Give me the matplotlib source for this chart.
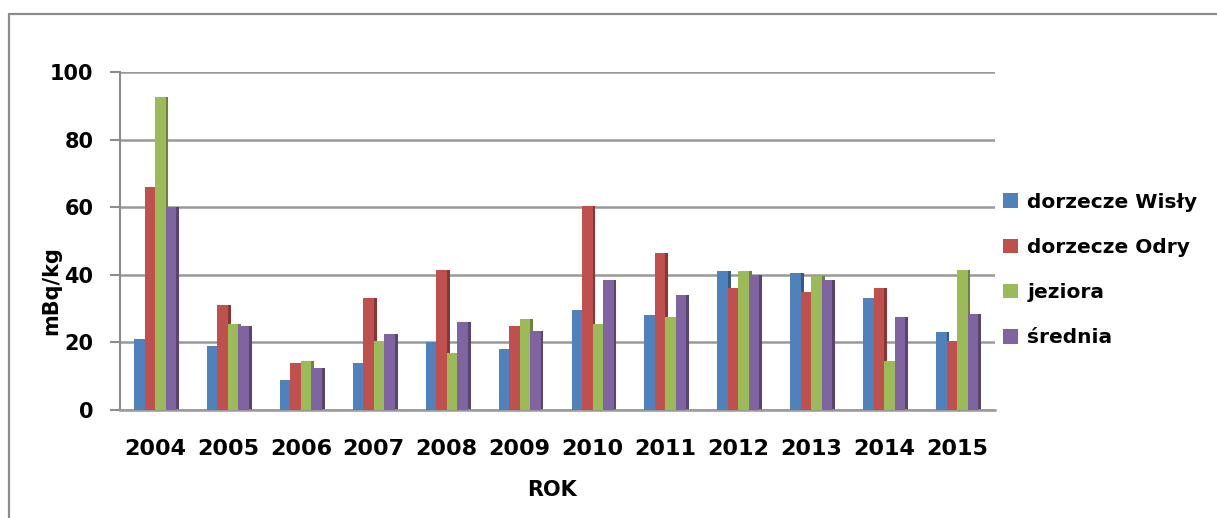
import numpy as np
import matplotlib.pyplot as plt
from matplotlib.lines import Line2D

# dane z wykresu
lata = ['2004', '2005', '2006', '2007', '2008', '2009', '2010', '2011', '2012', '2013', '2014', '2015']
wisla = [21, 19, 9, 14, 20, 18, 29.5, 28, 41, 40.5, 33, 23]
odra = [66, 31, 14, 33, 41.5, 25, 60.5, 46.5, 36, 35, 36, 20.5]
jeziora = [92.5, 25.5, 14.5, 20.5, 17, 27, 25.5, 27.5, 41, 39.5, 14.5, 41.5]
srednia = [60, 25, 12.5, 22.5, 26, 23.5, 38.5, 34, 40, 38.5, 27.5, 28.5]

serie = [('dorzecze Wisły', wisla, '#4F81BD'),
         ('dorzecze Odry', odra, '#C0504D'),
         ('jeziora', jeziora, '#9BBB59'),
         ('średnia', srednia, '#8064A2')]

plt.rcParams['font.family'] = ['DejaVu Sans']

W, H = 1217, 518
fig = plt.figure(figsize=(W / 100, H / 100), dpi=100)
ax = fig.add_axes([120 / W, 1 - 410 / H, 875 / W, 338 / H])

# ramka (lewa i górna krawędź)
fig.lines.append(Line2D([9 / W, 9 / W, 1.0], [0, 1 - 14 / H, 1 - 14 / H],
                        transform=fig.transFigure, color='#8c8c8c', linewidth=1.6))

x = np.arange(len(lata))
w = 0.144
for i, (nazwa, wart, kolor) in enumerate(serie):
    pos = x + (i - 1.5) * w
    ax.bar(pos, wart, width=w, color=kolor, label=nazwa, zorder=3)
    # ciemniejszy bok słupka (efekt 3D)
    ax.bar(pos + w / 2 + 0.02, wart, width=0.04, color=kolor, zorder=2)
    ax.bar(pos + w / 2 + 0.02, wart, width=0.04, color='black', alpha=0.3, zorder=2)

ax.set_xlim(-0.48, 11.52)
ax.set_ylim(0, 100)
ax.set_yticks(range(0, 101, 20))
ax.set_xticks(x)
ax.set_xticklabels(lata)
ax.yaxis.grid(True, color='#999999', linewidth=1.8, zorder=0)
for s in ['top', 'right']:
    ax.spines[s].set_visible(False)
ax.spines['left'].set_color('#8c8c8c')
ax.spines['left'].set_linewidth(1.5)
ax.spines['bottom'].set_color('#999999')
ax.spines['bottom'].set_linewidth(1.8)
ax.tick_params(axis='y', length=7, color='#8c8c8c', width=1.5, pad=12, labelsize=15)
ax.tick_params(axis='x', length=0, pad=21, labelsize=16)
for t in ax.get_xticklabels() + ax.get_yticklabels():
    t.set_fontweight('bold')

fig.text(552 / W, 1 - 490 / H, 'ROK', fontsize=15, fontweight='bold',
         ha='center', va='center')
fig.text(51 / W, 1 - 291 / H, 'mBq/kg', fontsize=15, fontweight='bold',
         rotation=90, ha='center', va='center')

fig.legend(*ax.get_legend_handles_labels(), loc='center left',
           bbox_to_anchor=(1003 / W, 1 - 270 / H), frameon=False,
           prop={'size': 14.5, 'weight': 'bold'}, handlelength=0.75, handleheight=0.75,
           handletextpad=0.45, labelspacing=1.3, borderaxespad=0, borderpad=0)

fig.savefig('out.png', dpi=100)
